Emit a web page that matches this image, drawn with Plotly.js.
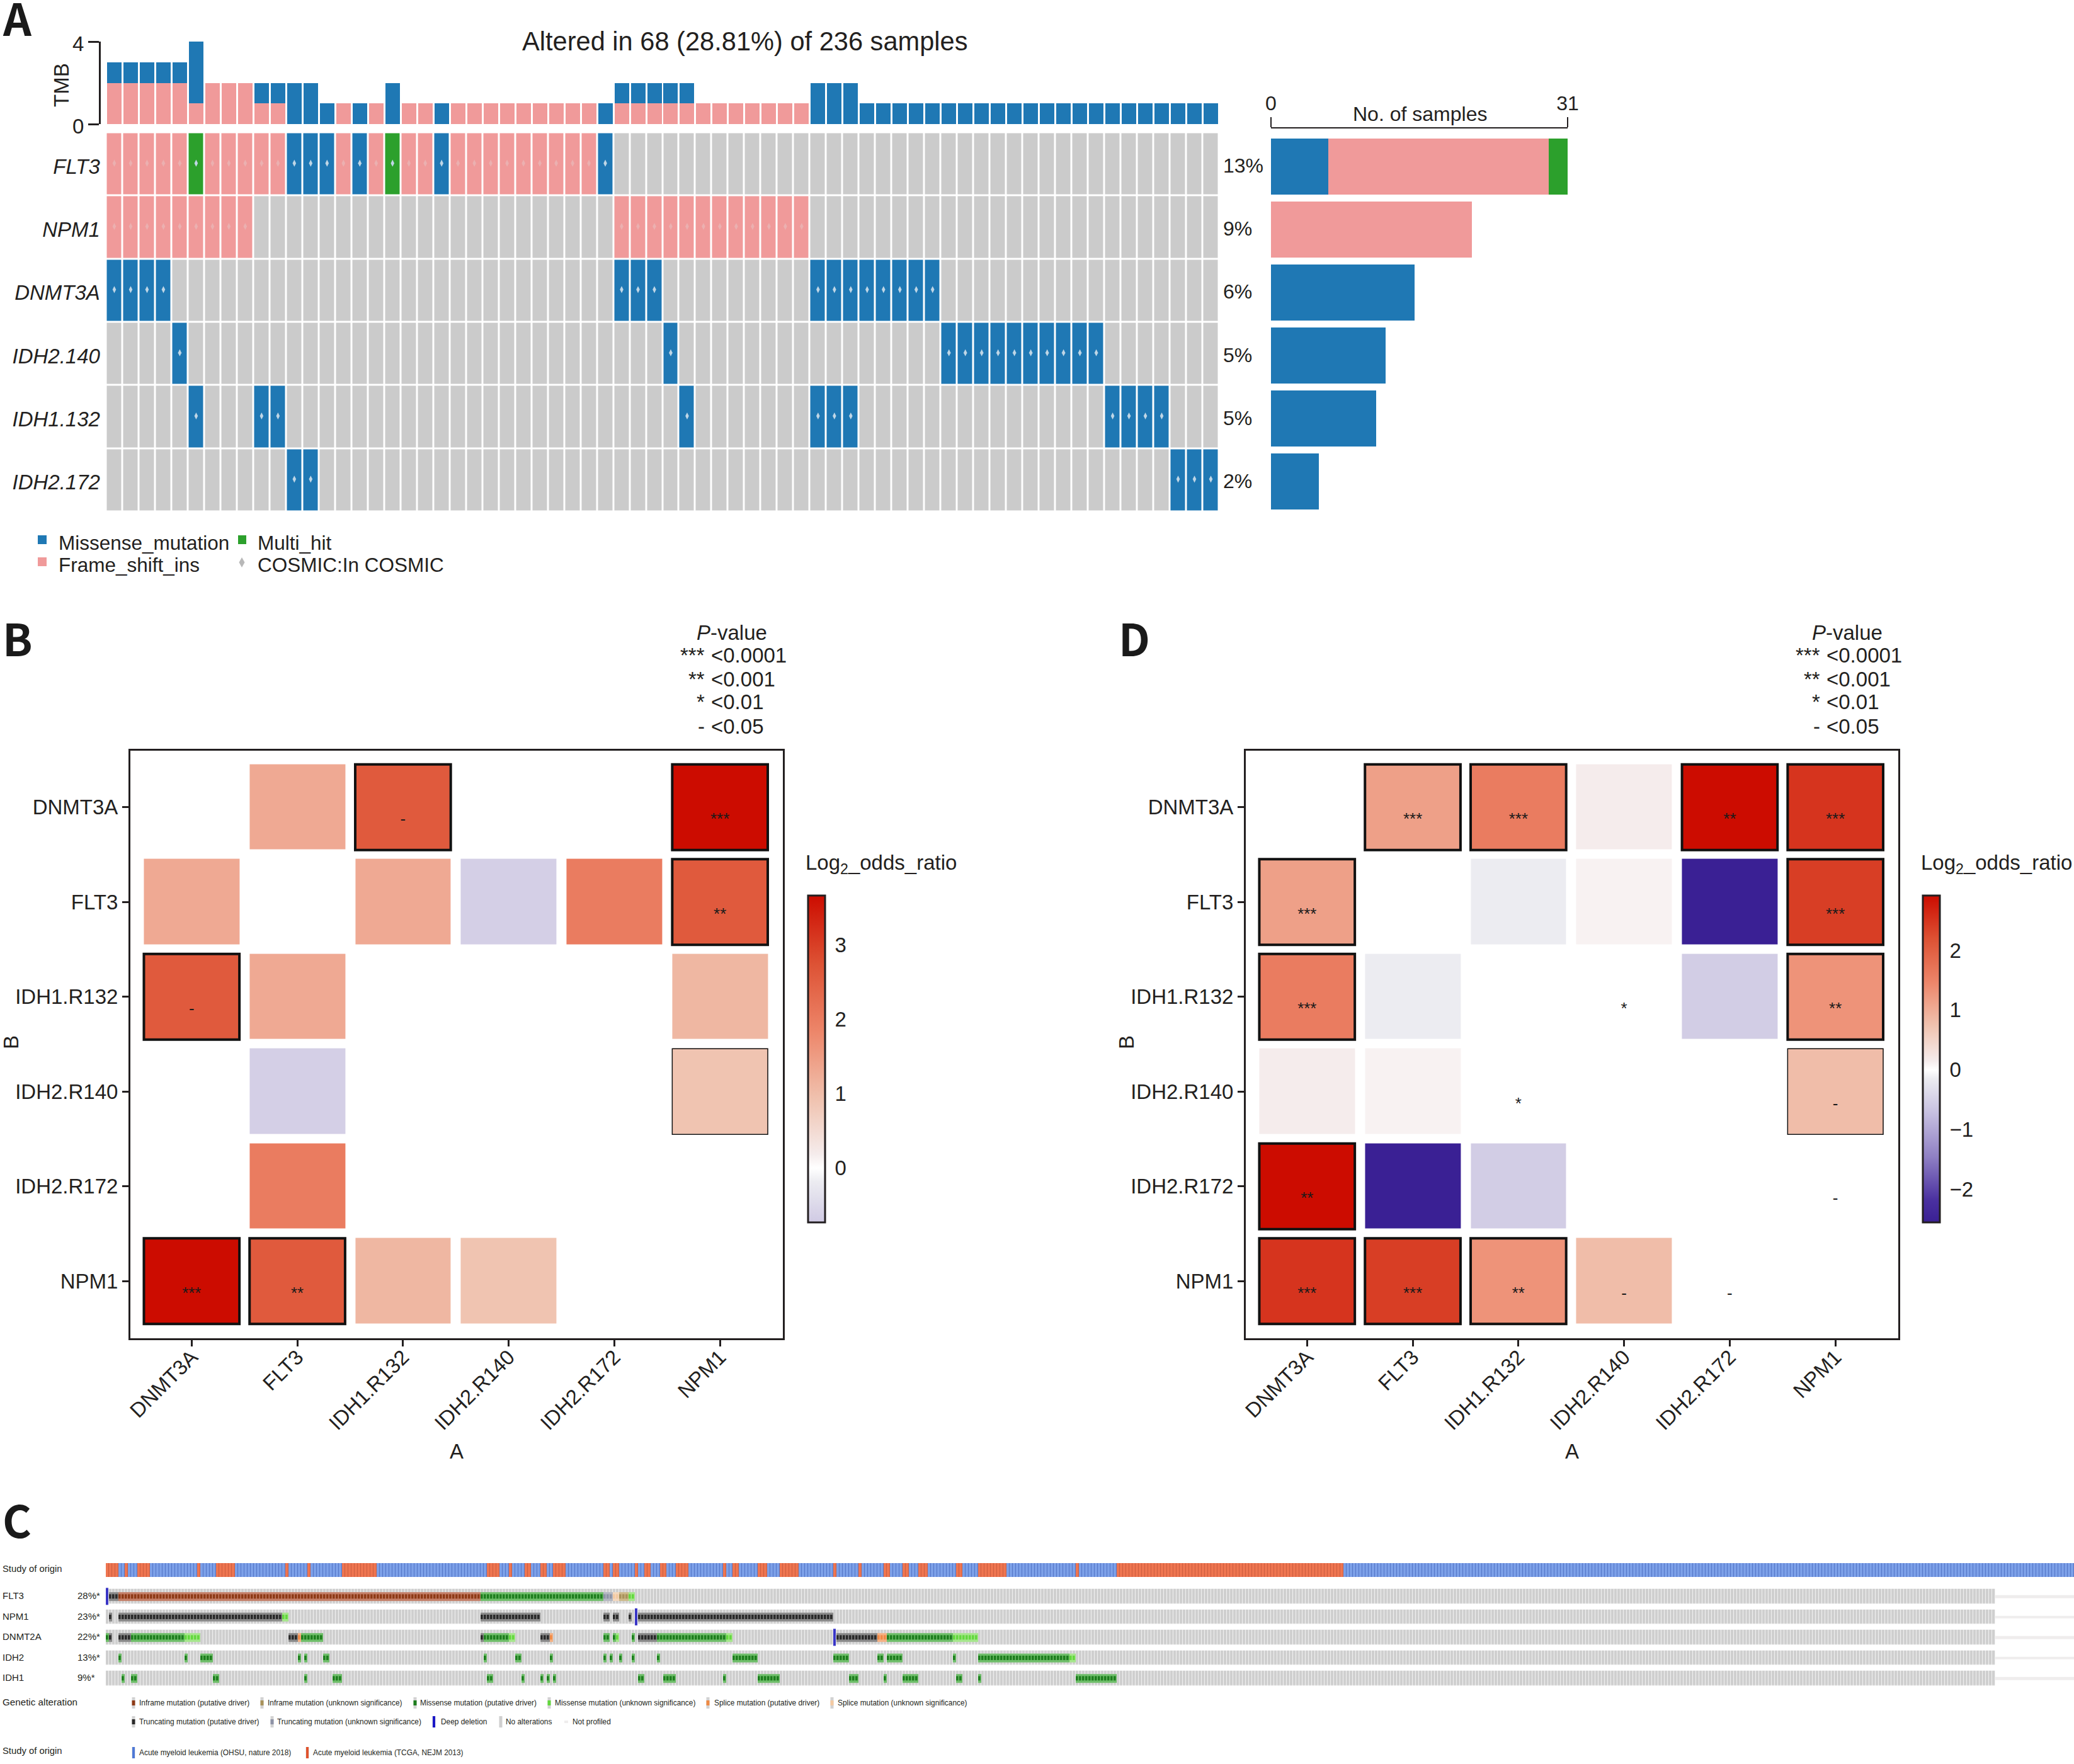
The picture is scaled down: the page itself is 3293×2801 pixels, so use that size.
<!DOCTYPE html>
<html><head><meta charset="utf-8">
<script src="https://cdn.plot.ly/plotly-3.0.1.min.js"></script>
<style>html,body{margin:0;padding:0;background:#fff}#chart{width:3293px;height:2801px}</style>
</head><body><div id="chart"></div>
<script>
const W = 3293, H = 2801;
const FONT = '"Liberation Sans", Arial, sans-serif';
const INK = '#231F20';

/* ---------- Panel A data: run-length coded calls per gene, 68 altered samples ---------- */
const oncoGenes = ['FLT3', 'NPM1', 'DNMT3A', 'IDH2.140', 'IDH1.132', 'IDH2.172'];
const oncoPct = ['13%', '9%', '6%', '5%', '5%', '2%'];
const runsFLT3 = [['F',5],['H',1],['F',5],['M',3],['F',1],['M',1],['F',1],['H',1],['F',2],['M',1],['F',9],['M',1],['.',37]];
const runsNPM1 = [['F',9],['.',22],['F',12],['.',25]];
const runsDNMT3A = [['M',4],['.',27],['M',3],['.',9],['M',8],['.',17]];
const runsIDH2140 = [['.',4],['M',1],['.',29],['M',1],['.',16],['M',10],['.',7]];
const runsIDH1132 = [['.',5],['M',1],['.',3],['M',2],['.',24],['M',1],['.',7],['M',3],['.',15],['M',4],['.',3]];
const runsIDH2172 = [['.',11],['M',2],['.',52],['M',3]];
const tmbFrame = [2,2,2,2,2,1,2,2,2,1,1,0,0,0,1,0,1,0,1,1,0,1,1,1,1,1,1,1,1,1,0,1,1,1,1,1,1,1,1,1,1,1,1,0,0,0,0,0,0,0,0,0,0,0,0,0,0,0,0,0,0,0,0,0,0,0,0,0];
const tmbMissense = [1,1,1,1,1,3,0,0,0,1,1,2,2,1,0,1,0,2,0,0,1,0,0,0,0,0,0,0,0,0,1,1,1,1,1,1,0,0,0,0,0,0,0,2,2,2,1,1,1,1,1,1,1,1,1,1,1,1,1,1,1,1,1,1,1,1,1,1];
const samplesMissense = [6,0,15,12,11,5];
const samplesFrame = [23,21,0,0,0,0];
const samplesMulti = [2,0,0,0,0,0];

/* ---------- Panels B and D data ---------- */
const pairLabels = ['DNMT3A','FLT3','IDH1.R132','IDH2.R140','IDH2.R172','NPM1'];
const oddsB = [
 [null,1.3,2.6,null,null,3.66],
 [1.3,null,1.3,-0.65,2.0,2.6],
 [2.6,1.3,null,null,null,1.1],
 [null,-0.65,null,null,null,0.9],
 [null,2.0,null,null,null,null],
 [3.66,2.6,1.1,0.9,null,null]];
const signifB = [
 ['','','-','','','***'],
 ['','','','','','**'],
 ['-','','','','',''],
 ['','','','','',''],
 ['','','','','',''],
 ['***','**','','','','']];
const borderB = [
 [0,0,2,0,0,2],
 [0,0,0,0,0,2],
 [2,0,0,0,0,0],
 [0,0,0,0,0,1],
 [0,0,0,0,0,0],
 [2,2,0,0,0,0]];
const oddsD = [
 [null,1.15,1.6,0.15,2.92,2.5],
 [1.15,null,-0.15,0.1,-2.56,2.4],
 [1.6,-0.15,null,null,-0.55,1.3],
 [0.15,0.1,null,null,null,0.8],
 [2.92,-2.56,-0.55,null,null,null],
 [2.5,2.4,1.3,0.8,null,null]];
const signifD = [
 ['','***','***','','**','***'],
 ['***','','','','','***'],
 ['***','','','*','','**'],
 ['','','*','','','-'],
 ['**','','','','','-'],
 ['***','***','**','-','-','']];
const borderD = [
 [0,2,2,0,2,2],
 [2,0,0,0,0,2],
 [2,0,0,0,0,2],
 [0,0,0,0,0,1],
 [2,0,0,0,0,0],
 [2,2,2,0,0,0]];
const rangeB = [-0.73, 3.66], ticksB = [0,1,2,3];
const rangeD = [-2.56, 2.92], ticksD = [-2,-1,0,1,2];
const ratioStops = [[-1,[42,16,136]],[-0.75,[74,48,160]],[-0.5,[143,128,196]],[-0.25,[198,191,224]],[-0.05,[236,236,241]],[0,[255,255,255]],[0.05,[245,236,236]],[0.25,[240,195,176]],[0.5,[237,134,106]],[0.75,[221,82,52]],[1,[204,12,0]]];

/* ---------- Panel C data: [start, end, class] in sample order ---------- */
const cGenes = ['FLT3','NPM1','DNMT2A','IDH2','IDH1'];
const cPct = ['28%*','23%*','22%*','13%*','9%*'];
const sampleCount = 625, profiledCount = 600;
const tcgaRuns = [[0,4],[6,7],[10,14],[29,30],[35,41],[57,58],[64,65],[75,86],[121,125],[128,129],[133,135],[138,140],[142,146],[158,160],[161,163],[168,169],[171,173],[176,178],[181,185],[196,197],[199,201],[207,210],[214,220],[231,232],[239,240],[247,249],[253,255],[258,261],[270,272],[277,286],[308,309],[321,393]];
const cFLT3 = [[1,4,'TP'],[4,119,'IP'],[119,158,'MP'],[158,161,'TU'],[161,163,'SU'],[163,166,'IU'],[166,168,'MU']];
const cNPM1 = [[1,2,'TP'],[4,56,'TP'],[56,58,'MU'],[119,138,'TP'],[158,160,'TP'],[161,163,'TP'],[166,167,'TP'],[169,231,'TP']];
const cDNMT = [[0,1,'MP'],[1,2,'TP'],[4,8,'TP'],[8,25,'MP'],[25,30,'MU'],[58,61,'TP'],[61,62,'SP'],[62,69,'MP'],[119,120,'TP'],[120,128,'MP'],[128,130,'MU'],[138,141,'TP'],[141,142,'SP'],[158,160,'MP'],[161,162,'MP'],[162,163,'MU'],[167,168,'MP'],[169,175,'TP'],[175,197,'MP'],[197,199,'MU'],[232,245,'TP'],[245,248,'SP'],[248,269,'MP'],[269,277,'MU']];
const cIDH2 = [[4,5,'MP'],[25,26,'MP'],[30,34,'MP'],[61,62,'MP'],[63,64,'MP'],[69,71,'MP'],[120,121,'MP'],[130,132,'MP'],[141,142,'MP'],[158,159,'MP'],[160,161,'MP'],[163,164,'MP'],[167,168,'MP'],[175,176,'MP'],[199,207,'MP'],[231,236,'MP'],[245,247,'MP'],[248,253,'MP'],[269,270,'MP'],[277,306,'MP'],[306,308,'MU']];
const cIDH1 = [[5,6,'MP'],[8,10,'MP'],[34,36,'MP'],[63,64,'MP'],[72,75,'MP'],[121,123,'MP'],[132,133,'MP'],[138,139,'MP'],[140,141,'MP'],[142,143,'MP'],[169,171,'MP'],[177,181,'MP'],[196,197,'MP'],[207,214,'MP'],[236,239,'MP'],[247,248,'MP'],[253,258,'MP'],[270,272,'MP'],[277,278,'MP'],[308,321,'MP']];
const cDeepDel = [[0],[168],[231],[],[]];
const altClasses = ['IP','IU','MP','MU','SP','SU','TP','TU'];
const altCore = ['#8E3A16','#A8925A','#1E7E1E','#63D83E','#EE8A45','#F3C9A2','#2A2A2A','#8E93A6'];
const altHalo = ['#C47F68','#CDB98A','#6FBE6A','#A6E68C','#F4B184','#F4D8BE','#8A8A8A','#B4B7C2'];
const altLegend = [
 ['Inframe mutation (putative driver)','IP',212,220,0],['Inframe mutation (unknown significance)','IU',416,424,0],
 ['Missense mutation (putative driver)','MP',659,666,0],['Missense mutation (unknown significance)','MU',872,880,0],
 ['Splice mutation (putative driver)','SP',1124,1133,0],['Splice mutation (unknown significance)','SU',1321,1329,0],
 ['Truncating mutation (putative driver)','TP',212,220,1],['Truncating mutation (unknown significance)','TU',432,439,1]];

/* ---------- helpers ---------- */
const dx = (a,b) => [a/W, b/W];
const dy = (t,b) => [1-b/H, 1-t/H];
const annotations = [], shapes = [], traces = [];
function label(text,x,y,size,opt){ opt=opt||{};
  annotations.push({text, x:x/W, y:opt.yref?y:1-y/H, xref:'paper', yref:opt.yref||'paper', xanchor:opt.xa||'left', yanchor:opt.ya||'middle',
    showarrow:false, textangle:opt.angle||0, font:{family:opt.family||FONT,size,color:opt.color||INK}, borderpad:0});
}
function box(x0,x1,y0,y1,color){ shapes.push({type:'rect',xref:'paper',yref:'paper',x0:x0/W,x1:x1/W,y0:1-y0/H,y1:1-y1/H,fillcolor:color,line:{width:0},layer:'above'}); }
const expand = runs => { const out=[]; runs.forEach(r=>{ for(let i=0;i<r[1];i++) out.push(r[0]); }); return out; };
function stepScale(cols){ const n=cols.length, s=[]; cols.forEach((c,i)=>{ s.push([i/n,c]); s.push([(i+1)/n,c]); }); return s; }
const hide = extra => Object.assign({visible:false,showgrid:false,zeroline:false,fixedrange:true},extra);

/* ---------- Panel A ---------- */
const BLUE='#1F78B4', PINK='#F09A9A', GREEN='#2CA02C', GREY='#CBCBCB';
const cols = tmbFrame.map((_,i)=>i);
traces.push({type:'bar',x:cols,y:tmbFrame,marker:{color:PINK,line:{width:0}},width:0.885,xaxis:'x',yaxis:'y',showlegend:false,hoverinfo:'skip'});
traces.push({type:'bar',x:cols,y:tmbMissense,marker:{color:BLUE,line:{width:0}},width:0.885,xaxis:'x',yaxis:'y',showlegend:false,hoverinfo:'skip'});
const oncoCalls = [runsFLT3,runsNPM1,runsDNMT3A,runsIDH2140,runsIDH1132,runsIDH2172].map(expand);
const callCode = {'.':0.5,'M':1.5,'F':2.5,'H':3.5};
traces.push({type:'heatmap',z:oncoCalls.map(r=>r.map(c=>callCode[c])),x:cols,y:[0,1,2,3,4,5],xgap:3,ygap:3,zmin:0,zmax:4,
  colorscale:stepScale([GREY,BLUE,PINK,GREEN]),showscale:false,xaxis:'x2',yaxis:'y2',hoverinfo:'skip'});
const dX=[],dY=[],dC=[];
oncoCalls.forEach((r,g)=>r.forEach((c,s)=>{ if(c!=='.'){ dX.push(s); dY.push(g-0.015); dC.push(c==='F'?'#EBB0B0':'#BFD6E6'); } }));
traces.push({type:'scatter',mode:'markers',x:dX,y:dY,marker:{symbol:'diamond-tall',size:8,color:dC,line:{width:0}},xaxis:'x2',yaxis:'y2',showlegend:false,hoverinfo:'skip'});
[[samplesMissense,BLUE],[samplesFrame,PINK],[samplesMulti,GREEN]].forEach(([v,c])=>{
  traces.push({type:'bar',orientation:'h',x:v,y:[0,1,2,3,4,5],width:0.89,marker:{color:c,line:{width:0}},xaxis:'x3',yaxis:'y3',showlegend:false,hoverinfo:'skip'});
});
label('Altered in 68 (28.81%) of 236 samples',828,65,41.6);
oncoPct.forEach((p,i)=>label(p,1941,i+0.02,32,{yref:'y2'}));
label('No. of samples',2254,181,32,{xa:'center'});
label('TMB',97,135,33,{xa:'center',angle:-90});
box(60,74,850,864,BLUE); box(60,74,885,899,PINK); box(378,391,850,864,GREEN);
shapes.push({type:'path',xref:'paper',yref:'paper',layer:'above',fillcolor:'#B8B8B8',line:{width:0},
  path:`M ${384/W} ${1-885/H} L ${388.5/W} ${1-893/H} L ${384/W} ${1-901/H} L ${379.5/W} ${1-893/H} Z`});
label('Missense_mutation',92,862,31.5); label('Frame_shift_ins',92,897,31.5);
label('Multi_hit',408,862,31.5); label('COSMIC:In COSMIC',408,897,31.5);

/* ---------- Panels B, D ---------- */
function lerpRatio(t){ for(let i=1;i<ratioStops.length;i++){ const a=ratioStops[i-1],b=ratioStops[i];
    if(t<=b[0]){ const f=(t-a[0])/(b[0]-a[0]); return 'rgb('+a[1].map((v,k)=>Math.round(v+(b[1][k]-v)*f)).join(',')+')'; } }
  return 'rgb(204,12,0)'; }
function ratioScale(range){ const M=range[1], pts=[range[0]/M]; ratioStops.forEach(s=>{ if(s[0]>range[0]/M) pts.push(s[0]); });
  return pts.map(t=>[(t*M-range[0])/(range[1]-range[0]),lerpRatio(t)]); }
const idx=[0,1,2,3,4,5];
function pairPanel(n,z,sig,bord,left,right,coloraxisName){
  const xa='x'+n, ya='y'+n;
  traces.push({type:'heatmap',z,x:idx,y:idx,xgap:16,ygap:15,coloraxis:coloraxisName,xaxis:xa,yaxis:ya,hoverinfo:'skip'});
  const tx=[],ty=[],tt=[];
  sig.forEach((r,i)=>r.forEach((s,j)=>{ if(s){ tx.push(j); ty.push(i+0.14); tt.push(s); } }));
  traces.push({type:'scatter',mode:'text',x:tx,y:ty,text:tt,textposition:'middle center',textfont:{family:FONT,size:26,color:'#1a1a1a'},xaxis:xa,yaxis:ya,showlegend:false,hoverinfo:'skip'});
  bord.forEach((r,i)=>r.forEach((b,j)=>{ if(b){ shapes.push({type:'rect',xref:xa,yref:ya,x0:j-0.452,x1:j+0.452,y0:i-0.452,y1:i+0.452,layer:'above',line:{color:'#111',width:b===2?4:1.5}}); } }));
  return {
    x:{domain:dx(left,right),range:[-0.58,5.595],tickvals:idx,ticktext:pairLabels,tickangle:-45,ticks:'outside',ticklen:10,tickwidth:3,tickcolor:INK,ticklabelstandoff:-15,
       tickfont:{family:FONT,size:33,color:INK},showline:true,linecolor:INK,linewidth:3,mirror:true,showgrid:false,zeroline:false,anchor:ya,fixedrange:true},
    y:{domain:dy(1191.5,2124.5),range:[5.6,-0.6],tickvals:idx,ticktext:pairLabels,ticks:'outside',ticklen:10,tickwidth:3,tickcolor:INK,
       tickfont:{family:FONT,size:33,color:INK},showline:true,linecolor:INK,linewidth:3,mirror:true,showgrid:false,zeroline:false,anchor:xa,fixedrange:true}
  };
}
const axB = pairPanel(4,oddsB,signifB,borderB,207,1243,'coloraxis');
const axD = pairPanel(5,oddsD,signifD,borderD,1978,3014,'coloraxis2');
function colorAxis(range,ticks,barX){
  ticks.forEach(v=>{ const y=1422+(range[1]-v)/(range[1]-range[0])*519; box(barX+1,barX+6,y-1,y+1,'#fff'); box(barX+21,barX+26,y-1,y+1,'#fff'); });
  return {cmin:range[0],cmax:range[1],colorscale:ratioScale(range),colorbar:{
  x:barX/W,xanchor:'left',y:1-1422/H,yanchor:'top',len:519,lenmode:'pixels',thickness:27,thicknessmode:'pixels',xpad:0,ypad:0,
  outlinewidth:3,outlinecolor:INK,ticks:'outside',ticklen:8,tickwidth:1,tickcolor:'rgba(0,0,0,0)',tickvals:ticks,tickfont:{family:FONT,size:33,color:INK}}}; }
[[0,1162,1127.5],[1771,2933,2898.5]].forEach(([off,pc,lt])=>{
  label('<i>P</i>-value',pc,1004,33,{xa:'center'});
  [['***','&lt;0.0001',1040],['**','&lt;0.001',1078],['*','&lt;0.01',1115],['-','&lt;0.05',1153]].forEach(([s,v,y])=>{
    label(s,lt-8,y,33,{xa:'right'}); label(v,lt,y,33);
  });
  label('A',725+off,2304,33,{xa:'center'});
  label('B',17+off,1655,33,{xa:'center',angle:-90});
});
label('Log<sub>2</sub>_odds_ratio',1278,1372,33);
label('Log<sub>2</sub>_odds_ratio',3049,1372,33);

/* ---------- Panel C ---------- */
const sampleX = Array.from({length:sampleCount},(_,i)=>i);
const studyRow = sampleX.map(()=>0.5);
tcgaRuns.forEach(([a,b])=>{ for(let i=a;i<b;i++) studyRow[i]=1.5; });
traces.push({type:'heatmap',z:[studyRow],x:sampleX,y:[0],zmin:0,zmax:2,colorscale:stepScale(['#5274C6','#CC5C3E']),showscale:false,xaxis:'x6',yaxis:'y6',hoverinfo:'skip'});
traces.push({type:'heatmap',z:[studyRow],x:sampleX,y:[0],xgap:1,zmin:0,zmax:2,colorscale:stepScale(['#7CA0E8','#EE7550']),showscale:false,xaxis:'x6',yaxis:'y6',hoverinfo:'skip'});
const gRows = [0,1,2,3,4];
traces.push({type:'heatmap',z:gRows.map(()=>sampleX.map(i=>i<profiledCount?1:null)),x:sampleX,y:gRows,xgap:0.7,ygap:9.5,zmin:0,zmax:1,
  colorscale:[[0,'#CFCFCF'],[1,'#CFCFCF']],showscale:false,xaxis:'x6',yaxis:'y7',hoverinfo:'skip'});
traces.push({type:'heatmap',z:gRows.map(()=>sampleX.map(i=>i>=profiledCount?1:null)),x:sampleX,y:gRows,ygap:28,zmin:0,zmax:1,
  colorscale:[[0,'#EFEDED'],[1,'#EFEDED']],showscale:false,xaxis:'x6',yaxis:'y7',hoverinfo:'skip'});
[cFLT3,cNPM1,cDNMT,cIDH2,cIDH1].forEach((runs,r)=>{
  const row=sampleX.map(()=>null);
  runs.forEach(([a,b,c])=>{ for(let i=a;i<b;i++) row[i]=altClasses.indexOf(c)+0.5; });
  traces.push({type:'heatmap',z:[row],x:sampleX,y:[r-0.21,r+0.21],zmin:0,zmax:8,colorscale:stepScale(altHalo),showscale:false,xaxis:'x6',yaxis:'y7',hoverinfo:'skip'});
  traces.push({type:'heatmap',z:[row],x:sampleX,y:[r-0.11,r+0.11],xgap:1.4,zmin:0,zmax:8,colorscale:stepScale(altCore),showscale:false,xaxis:'x6',yaxis:'y7',hoverinfo:'skip'});
  const dd=sampleX.map(i=>cDeepDel[r].includes(i)?1:null);
  if(cDeepDel[r].length) traces.push({type:'heatmap',z:[dd],x:sampleX,y:[r-0.42,r+0.42],xgap:1,zmin:0,zmax:1,colorscale:[[0,'#3A36C6'],[1,'#3A36C6']],showscale:false,xaxis:'x6',yaxis:'y7',hoverinfo:'skip'});
});
label('Study of origin',3,2490.5,14.8);
cGenes.forEach((g,i)=>{ label(g,3,2533.5+32.5*i,15); label(cPct[i],122,2533.5+32.5*i,15); });
label('Genetic alteration',3,2702,15.2);
label('Study of origin',3,2780,14.8);
function cLegend(text,color,sx,tx,y,full){
  box(sx-2.5,sx+2.5,y-9,y+9,'#D2D2D2');
  if(full) box(sx-2,sx+2,y-9,y+9,color); else box(sx-2.5,sx+2.5,y-4,y+4,color);
  label(text,tx,y,11.9);
}
altLegend.forEach(([t,c,sx,tx,row])=>cLegend(t,altCore[altClasses.indexOf(c)],sx,tx,row?2734:2704,false));
cLegend('Deep deletion','#1B18C8',689,699,2734,true);
box(792.5,797.5,2725,2743,'#CFCFCF'); label('No alterations',802,2734,11.9);
box(896,902,2732,2736,'#EFEDED'); label('Not profiled',908,2734,11.9);
cLegend('Acute myeloid leukemia (OHSU, nature 2018)','#4F79D6',212,220,2783,true);
cLegend('Acute myeloid leukemia (TCGA, NEJM 2013)','#E0532E',488,496,2783,true);

/* ---------- panel letters ---------- */
const LET = '"Noto Sans CJK KR","Liberation Sans",sans-serif';
[['A',3,26],['B',3,1012],['D',1775,1012],['C',3,2411]].forEach(([t,x,y])=>label('<b>'+t+'</b>',x,y,70,{family:LET,color:'#1a1a1a'}));

const layout = {
  width:W,height:H,margin:{l:0,r:0,t:0,b:0},paper_bgcolor:'#fff',plot_bgcolor:'rgba(0,0,0,0)',barmode:'stack',bargap:0,showlegend:false,
  font:{family:FONT,color:INK},
  xaxis:hide({domain:dx(168.5,1935.5),range:[-0.5,67.5],anchor:'y'}),
  yaxis:{domain:dy(66,197),range:[0,4],tickvals:[0,4],ticks:'outside',ticklen:17,tickwidth:3,tickcolor:INK,showline:true,linecolor:INK,linewidth:2.5,showgrid:false,zeroline:false,
     anchor:'free',position:158/W,tickfont:{family:FONT,size:33,color:INK},ticklabelshift:3,fixedrange:true},
  xaxis2:hide({domain:dx(168.5,1935.5),range:[-0.5,67.5],anchor:'y2'}),
  yaxis2:{domain:dy(210.5,812.5),range:[5.5,-0.5],tickvals:[0.035,1.035,2.035,3.035,4.035,5.035],ticktext:oncoGenes.map(g=>'<i>'+g+'</i>'),ticks:'outside',ticklen:2,tickcolor:'rgba(0,0,0,0)',showline:false,showgrid:false,zeroline:false,
     anchor:'x2',tickfont:{family:FONT,size:33,color:INK},fixedrange:true},
  xaxis3:{domain:dx(2018,2489),range:[0,31],side:'top',anchor:'y3',tickvals:[0,31],ticks:'outside',ticklen:16,tickwidth:2.5,tickcolor:INK,showline:true,linecolor:INK,linewidth:2.5,showgrid:false,zeroline:false,tickfont:{family:FONT,size:32,color:INK},ticklabelstandoff:-2,fixedrange:true},
  yaxis3:hide({domain:dy(204,812),range:[5.475,-0.605],anchor:'x3'}),
  xaxis4:axB.x,yaxis4:axB.y,xaxis5:axD.x,yaxis5:axD.y,
  xaxis6:hide({domain:dx(168,3293),range:[-0.5,624.5],anchor:'y6'}),
  yaxis6:hide({domain:dy(2482,2504),range:[-0.5,0.5],anchor:'x6'}),
  yaxis7:hide({domain:dy(2518,2682),range:[4.523,-0.523],anchor:'x6'}),
  coloraxis:colorAxis(rangeB,ticksB,1283),
  coloraxis2:colorAxis(rangeD,ticksD,3053),
  annotations,shapes
};
Plotly.newPlot('chart',traces,layout,{displayModeBar:false,staticPlot:true});
</script></body></html>
